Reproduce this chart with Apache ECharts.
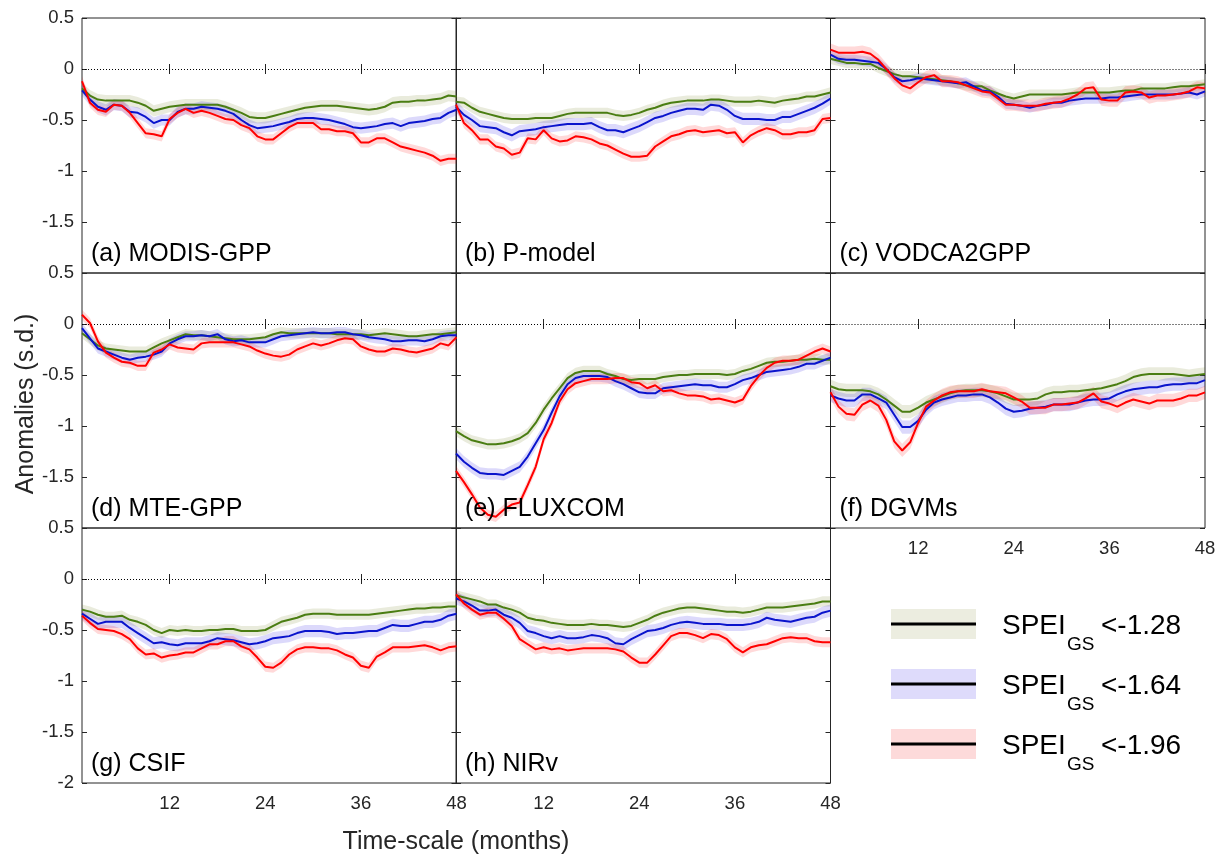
<!DOCTYPE html>
<html><head><meta charset="utf-8">
<script src="https://cdn.jsdelivr.net/npm/echarts@6/dist/echarts.min.js"></script>
<style>html,body{margin:0;padding:0;background:#fff}#c{width:1222px;height:858px}</style>
</head><body><div id="c"></div><script>
const months = [1,2,3,4,5,6,7,8,9,10,11,12,13,14,15,16,17,18,19,20,21,22,23,24,25,26,27,28,29,30,31,32,33,34,35,36,37,38,39,40,41,42,43,44,45,46,47,48];
const xTickLabels = [12,24,36,48];
const panelTitles = ['(a) MODIS-GPP','(b) P-model','(c) VODCA2GPP','(d) MTE-GPP','(e) FLUXCOM','(f) DGVMs','(g) CSIF','(h) NIRv'];
const legendThresholds = ['<-1.28','<-1.64','<-1.96'];

const modisG = [-0.19,-0.26,-0.30,-0.31,-0.31,-0.31,-0.31,-0.33,-0.36,-0.41,-0.39,-0.37,-0.36,-0.35,-0.35,-0.35,-0.35,-0.35,-0.37,-0.40,-0.43,-0.47,-0.48,-0.48,-0.46,-0.44,-0.42,-0.40,-0.38,-0.37,-0.36,-0.36,-0.36,-0.37,-0.38,-0.39,-0.40,-0.39,-0.37,-0.33,-0.32,-0.32,-0.31,-0.31,-0.30,-0.29,-0.26,-0.27];
const modisB = [-0.21,-0.30,-0.37,-0.40,-0.35,-0.36,-0.42,-0.43,-0.47,-0.53,-0.50,-0.50,-0.42,-0.39,-0.39,-0.37,-0.38,-0.39,-0.41,-0.44,-0.50,-0.55,-0.58,-0.57,-0.56,-0.54,-0.52,-0.49,-0.48,-0.48,-0.49,-0.50,-0.52,-0.54,-0.57,-0.58,-0.57,-0.56,-0.54,-0.53,-0.56,-0.53,-0.52,-0.51,-0.49,-0.48,-0.43,-0.40];
const modisR = [-0.12,-0.33,-0.40,-0.42,-0.35,-0.36,-0.43,-0.53,-0.63,-0.64,-0.66,-0.49,-0.43,-0.39,-0.43,-0.41,-0.43,-0.46,-0.49,-0.50,-0.55,-0.58,-0.66,-0.69,-0.69,-0.63,-0.57,-0.53,-0.53,-0.53,-0.59,-0.59,-0.61,-0.61,-0.63,-0.72,-0.72,-0.68,-0.68,-0.72,-0.76,-0.78,-0.80,-0.82,-0.85,-0.90,-0.88,-0.88];

const pmodelG = [-0.32,-0.33,-0.38,-0.42,-0.44,-0.46,-0.48,-0.49,-0.49,-0.49,-0.48,-0.48,-0.48,-0.46,-0.44,-0.43,-0.43,-0.43,-0.43,-0.43,-0.45,-0.46,-0.45,-0.43,-0.40,-0.38,-0.35,-0.33,-0.32,-0.31,-0.31,-0.31,-0.30,-0.30,-0.31,-0.32,-0.32,-0.32,-0.31,-0.32,-0.33,-0.31,-0.30,-0.29,-0.27,-0.27,-0.25,-0.23];
const pmodelB = [-0.37,-0.45,-0.50,-0.56,-0.57,-0.58,-0.62,-0.65,-0.61,-0.60,-0.59,-0.57,-0.56,-0.55,-0.54,-0.54,-0.54,-0.53,-0.57,-0.60,-0.60,-0.62,-0.59,-0.56,-0.52,-0.48,-0.46,-0.43,-0.41,-0.39,-0.39,-0.40,-0.35,-0.36,-0.40,-0.46,-0.49,-0.49,-0.49,-0.50,-0.50,-0.47,-0.47,-0.44,-0.41,-0.38,-0.34,-0.29];
const pmodelR = [-0.35,-0.53,-0.60,-0.69,-0.69,-0.76,-0.78,-0.84,-0.82,-0.68,-0.69,-0.60,-0.68,-0.71,-0.70,-0.66,-0.67,-0.69,-0.73,-0.75,-0.79,-0.83,-0.86,-0.86,-0.85,-0.76,-0.71,-0.66,-0.64,-0.61,-0.60,-0.62,-0.61,-0.60,-0.63,-0.62,-0.72,-0.65,-0.61,-0.58,-0.60,-0.64,-0.64,-0.62,-0.62,-0.60,-0.49,-0.48];

const vodcaG = [0.10,0.08,0.06,0.06,0.05,0.05,0.01,-0.02,-0.05,-0.07,-0.07,-0.08,-0.09,-0.10,-0.11,-0.12,-0.14,-0.16,-0.17,-0.17,-0.21,-0.24,-0.27,-0.29,-0.27,-0.25,-0.25,-0.25,-0.25,-0.25,-0.24,-0.23,-0.23,-0.23,-0.23,-0.23,-0.22,-0.21,-0.21,-0.19,-0.19,-0.19,-0.19,-0.18,-0.17,-0.17,-0.16,-0.15];
const vodcaB = [0.14,0.10,0.09,0.09,0.08,0.07,0.06,0.00,-0.08,-0.12,-0.11,-0.09,-0.10,-0.11,-0.12,-0.13,-0.14,-0.13,-0.17,-0.21,-0.22,-0.27,-0.34,-0.35,-0.36,-0.38,-0.36,-0.35,-0.33,-0.33,-0.31,-0.30,-0.29,-0.29,-0.29,-0.28,-0.28,-0.27,-0.26,-0.25,-0.25,-0.25,-0.25,-0.25,-0.24,-0.23,-0.25,-0.22];
const vodcaR = [0.19,0.16,0.16,0.16,0.17,0.15,0.09,0.00,-0.09,-0.16,-0.19,-0.13,-0.08,-0.06,-0.12,-0.12,-0.13,-0.16,-0.19,-0.22,-0.23,-0.29,-0.35,-0.35,-0.36,-0.36,-0.36,-0.34,-0.33,-0.32,-0.29,-0.25,-0.19,-0.18,-0.30,-0.31,-0.31,-0.23,-0.22,-0.23,-0.28,-0.26,-0.26,-0.25,-0.24,-0.22,-0.18,-0.19];

const mteG = [-0.09,-0.15,-0.21,-0.24,-0.25,-0.26,-0.27,-0.27,-0.27,-0.23,-0.19,-0.16,-0.13,-0.10,-0.11,-0.11,-0.12,-0.13,-0.14,-0.15,-0.15,-0.15,-0.14,-0.13,-0.10,-0.08,-0.09,-0.09,-0.09,-0.09,-0.09,-0.09,-0.10,-0.10,-0.10,-0.10,-0.11,-0.10,-0.09,-0.10,-0.11,-0.12,-0.12,-0.11,-0.10,-0.10,-0.09,-0.08];
const mteB = [-0.04,-0.14,-0.24,-0.27,-0.30,-0.33,-0.35,-0.33,-0.32,-0.30,-0.27,-0.19,-0.15,-0.12,-0.12,-0.11,-0.12,-0.10,-0.15,-0.17,-0.16,-0.18,-0.18,-0.18,-0.15,-0.12,-0.11,-0.10,-0.09,-0.08,-0.09,-0.09,-0.08,-0.08,-0.10,-0.11,-0.13,-0.14,-0.15,-0.17,-0.17,-0.16,-0.16,-0.17,-0.15,-0.12,-0.11,-0.11];
const mteR = [0.09,0.01,-0.17,-0.28,-0.33,-0.37,-0.38,-0.41,-0.41,-0.28,-0.25,-0.20,-0.23,-0.24,-0.25,-0.19,-0.18,-0.18,-0.18,-0.18,-0.20,-0.22,-0.26,-0.29,-0.31,-0.32,-0.30,-0.25,-0.22,-0.19,-0.21,-0.19,-0.16,-0.14,-0.15,-0.22,-0.25,-0.27,-0.27,-0.24,-0.25,-0.27,-0.28,-0.26,-0.24,-0.19,-0.21,-0.13];

const fluxG = [-1.05,-1.10,-1.14,-1.16,-1.18,-1.18,-1.17,-1.15,-1.12,-1.07,-0.97,-0.84,-0.73,-0.63,-0.53,-0.48,-0.46,-0.46,-0.46,-0.49,-0.51,-0.54,-0.55,-0.54,-0.54,-0.54,-0.52,-0.51,-0.50,-0.50,-0.49,-0.49,-0.49,-0.49,-0.50,-0.49,-0.46,-0.44,-0.41,-0.38,-0.37,-0.37,-0.36,-0.35,-0.35,-0.34,-0.35,-0.35];
const fluxB = [-1.27,-1.35,-1.41,-1.46,-1.47,-1.47,-1.48,-1.44,-1.40,-1.30,-1.17,-1.04,-0.87,-0.71,-0.59,-0.53,-0.51,-0.51,-0.51,-0.52,-0.56,-0.59,-0.63,-0.67,-0.68,-0.68,-0.63,-0.62,-0.61,-0.60,-0.59,-0.60,-0.60,-0.62,-0.62,-0.59,-0.55,-0.53,-0.50,-0.47,-0.46,-0.45,-0.44,-0.42,-0.39,-0.39,-0.36,-0.33];
const fluxR = [-1.44,-1.55,-1.67,-1.80,-1.87,-1.89,-1.82,-1.77,-1.75,-1.58,-1.40,-1.13,-0.97,-0.76,-0.64,-0.58,-0.56,-0.54,-0.54,-0.54,-0.53,-0.53,-0.57,-0.58,-0.63,-0.60,-0.66,-0.65,-0.68,-0.70,-0.70,-0.71,-0.74,-0.73,-0.75,-0.77,-0.74,-0.61,-0.51,-0.43,-0.38,-0.36,-0.36,-0.35,-0.31,-0.27,-0.24,-0.27];

const dgvmG = [-0.61,-0.64,-0.65,-0.65,-0.65,-0.66,-0.69,-0.74,-0.80,-0.86,-0.86,-0.82,-0.77,-0.74,-0.71,-0.68,-0.66,-0.65,-0.65,-0.65,-0.66,-0.68,-0.71,-0.74,-0.74,-0.74,-0.73,-0.69,-0.67,-0.67,-0.66,-0.66,-0.65,-0.64,-0.63,-0.61,-0.59,-0.56,-0.52,-0.50,-0.49,-0.49,-0.49,-0.49,-0.50,-0.51,-0.50,-0.49];
const dgvmB = [-0.70,-0.73,-0.75,-0.75,-0.69,-0.69,-0.73,-0.77,-0.89,-1.01,-1.01,-0.95,-0.84,-0.77,-0.74,-0.72,-0.70,-0.70,-0.69,-0.69,-0.72,-0.77,-0.83,-0.86,-0.85,-0.83,-0.82,-0.81,-0.79,-0.79,-0.79,-0.77,-0.75,-0.74,-0.74,-0.73,-0.69,-0.66,-0.64,-0.63,-0.62,-0.62,-0.60,-0.59,-0.59,-0.58,-0.58,-0.55];
const dgvmR = [-0.67,-0.81,-0.88,-0.89,-0.79,-0.75,-0.80,-0.94,-1.15,-1.24,-1.16,-0.97,-0.81,-0.75,-0.70,-0.67,-0.66,-0.66,-0.66,-0.64,-0.66,-0.67,-0.68,-0.72,-0.76,-0.82,-0.82,-0.82,-0.79,-0.79,-0.78,-0.77,-0.73,-0.68,-0.76,-0.78,-0.81,-0.77,-0.74,-0.76,-0.78,-0.75,-0.75,-0.75,-0.73,-0.70,-0.70,-0.67];

const csifG = [-0.30,-0.32,-0.35,-0.37,-0.37,-0.36,-0.40,-0.42,-0.45,-0.50,-0.53,-0.50,-0.51,-0.50,-0.51,-0.51,-0.50,-0.50,-0.49,-0.49,-0.51,-0.51,-0.51,-0.50,-0.46,-0.42,-0.40,-0.38,-0.35,-0.34,-0.34,-0.34,-0.35,-0.35,-0.35,-0.35,-0.35,-0.34,-0.33,-0.32,-0.31,-0.30,-0.29,-0.29,-0.28,-0.28,-0.27,-0.27];
const csifB = [-0.34,-0.39,-0.44,-0.42,-0.42,-0.42,-0.48,-0.53,-0.58,-0.63,-0.62,-0.64,-0.65,-0.63,-0.63,-0.63,-0.61,-0.58,-0.59,-0.60,-0.62,-0.64,-0.63,-0.61,-0.58,-0.57,-0.56,-0.53,-0.51,-0.51,-0.51,-0.52,-0.54,-0.53,-0.53,-0.52,-0.51,-0.51,-0.48,-0.45,-0.46,-0.46,-0.44,-0.42,-0.42,-0.40,-0.36,-0.34];
const csifR = [-0.36,-0.43,-0.49,-0.50,-0.51,-0.54,-0.59,-0.68,-0.74,-0.73,-0.77,-0.75,-0.74,-0.72,-0.72,-0.68,-0.64,-0.64,-0.61,-0.61,-0.66,-0.69,-0.77,-0.86,-0.87,-0.82,-0.74,-0.69,-0.67,-0.67,-0.68,-0.68,-0.70,-0.74,-0.77,-0.85,-0.87,-0.76,-0.72,-0.67,-0.67,-0.67,-0.66,-0.65,-0.67,-0.70,-0.67,-0.66];

const nirvG = [-0.16,-0.18,-0.20,-0.22,-0.25,-0.25,-0.28,-0.30,-0.33,-0.38,-0.40,-0.41,-0.43,-0.44,-0.45,-0.45,-0.45,-0.44,-0.45,-0.45,-0.46,-0.47,-0.46,-0.43,-0.40,-0.36,-0.33,-0.31,-0.29,-0.28,-0.28,-0.29,-0.30,-0.31,-0.32,-0.32,-0.33,-0.32,-0.30,-0.28,-0.28,-0.28,-0.27,-0.26,-0.25,-0.24,-0.22,-0.22];
const nirvB = [-0.19,-0.22,-0.26,-0.31,-0.31,-0.30,-0.35,-0.38,-0.43,-0.51,-0.53,-0.56,-0.58,-0.56,-0.58,-0.58,-0.57,-0.55,-0.56,-0.58,-0.63,-0.64,-0.59,-0.55,-0.51,-0.50,-0.48,-0.45,-0.43,-0.42,-0.43,-0.44,-0.44,-0.44,-0.45,-0.45,-0.45,-0.44,-0.42,-0.38,-0.40,-0.41,-0.42,-0.40,-0.38,-0.37,-0.33,-0.31];
const nirvR = [-0.15,-0.24,-0.30,-0.35,-0.33,-0.33,-0.39,-0.46,-0.59,-0.64,-0.69,-0.67,-0.69,-0.68,-0.70,-0.69,-0.68,-0.68,-0.68,-0.68,-0.69,-0.71,-0.77,-0.82,-0.82,-0.74,-0.65,-0.56,-0.53,-0.53,-0.55,-0.58,-0.54,-0.55,-0.59,-0.67,-0.72,-0.67,-0.65,-0.64,-0.61,-0.58,-0.57,-0.58,-0.58,-0.61,-0.62,-0.62];

// half-width of the shaded uncertainty band, per panel: [green, blue, red]
const bandHalfWidth = [
  [0.055,0.055,0.05],[0.05,0.06,0.05],[0.05,0.05,0.06],[0.05,0.05,0.05],
  [0.05,0.055,0.05],[0.065,0.065,0.065],[0.05,0.06,0.05],[0.05,0.06,0.05]
];

const panelData = [
  [modisG, modisB, modisR],[pmodelG, pmodelB, pmodelR],[vodcaG, vodcaB, vodcaR],
  [mteG, mteB, mteR],[fluxG, fluxB, fluxR],[dgvmG, dgvmB, dgvmR],
  [csifG, csifB, csifR],[nirvG, nirvB, nirvR]
];

const lineColors = ['#4A7D12','#0A14CC','#FF0000'];
const bandColors = ['rgba(110,120,20,0.15)','rgba(20,0,230,0.15)','rgba(255,0,0,0.15)'];
const legendBoxColors = ['#ECEDE0','#DEDBFB','#FDDADA'];

const FONT = '"Liberation Sans", Arial, Helvetica, sans-serif';
const TXT = '#262626';
const colLeft = [82, 456, 830.5];
const rowTop = [18, 273, 528];
const gW = 374.5, gH = 255;

const grids = [], xAxes = [], yAxes = [], series = [], graphics = [];
const isTick = (idx, val) => xTickLabels.indexOf(Number(val)) >= 0;

panelData.forEach((sets, p) => {
  const r = Math.floor(p / 3), c = p % 3;
  grids.push({left: colLeft[c], top: rowTop[r], width: gW, height: gH, show: true,
    borderColor: TXT, borderWidth: 1, backgroundColor: 'transparent', containLabel: false, outerBoundsMode: 'none'});
  const showX = (r === 2) || (r === 1 && c === 2);
  const xBase = {type: 'category', gridIndex: p, data: months, boundaryGap: false,
    axisLine: {show: false}, splitLine: {show: false},
    axisTick: {show: true, inside: true, length: 5, interval: isTick, lineStyle: {color: TXT}}};
  xAxes.push(Object.assign({}, xBase, {position: 'bottom',
    axisLabel: {show: showX, interval: isTick, fontSize: 18.5, color: TXT, fontFamily: FONT, margin: 11}}));
  xAxes.push(Object.assign({}, xBase, {position: 'top', axisLabel: {show: false}}));
  const yBase = {type: 'value', gridIndex: p, min: -2, max: 0.5, interval: 0.5,
    axisLine: {show: false}, splitLine: {show: false},
    axisTick: {show: true, inside: true, length: 5, lineStyle: {color: TXT}}};
  yAxes.push(Object.assign({}, yBase, {position: 'left',
    axisLabel: {show: c === 0, fontSize: 18.5, color: TXT, fontFamily: FONT, margin: 8, showMinLabel: r === 2}}));
  yAxes.push(Object.assign({}, yBase, {position: 'right', axisLabel: {show: false}}));
  const xi = p * 2, yi = p * 2;
  sets.forEach((vals, s) => {
    const hw = bandHalfWidth[p][s];
    const stackId = 'band' + p + '_' + s;
    series.push({type: 'line', xAxisIndex: xi, yAxisIndex: yi, stack: stackId, stackStrategy: 'all',
      data: vals.map(v => +(v - hw).toFixed(4)), symbol: 'none', silent: true, z: 1,
      lineStyle: {opacity: 0, width: 0}});
    series.push({type: 'line', xAxisIndex: xi, yAxisIndex: yi, stack: stackId, stackStrategy: 'all',
      data: vals.map(() => +(2 * hw).toFixed(4)), symbol: 'none', silent: true, z: 1,
      lineStyle: {opacity: 0, width: 0}, areaStyle: {color: bandColors[s], opacity: 1}});
  });
  sets.forEach((vals, s) => {
    const sr = {type: 'line', xAxisIndex: xi, yAxisIndex: yi, data: vals, symbol: 'none', z: 3,
      lineStyle: {color: lineColors[s], width: 2}, itemStyle: {color: lineColors[s]}};
    if (s === 0) {
      sr.markLine = {silent: true, symbol: ['none', 'none'], label: {show: false},
        lineStyle: {type: [1, 2], color: '#000', width: 1}, data: [{yAxis: 0}], z: 2};
    }
    series.push(sr);
  });
  graphics.push({type: 'text', x: colLeft[c] + 9, y: rowTop[r] + gH - 19, z: 10,
    style: {text: panelTitles[p], font: '25px ' + FONT, fill: '#000', textAlign: 'left', textVerticalAlign: 'middle'}});
});

graphics.push({type: 'text', x: 26, y: 404, rotation: Math.PI / 2,
  style: {text: 'Anomalies (s.d.)', font: '25px ' + FONT, fill: TXT, textAlign: 'center', textVerticalAlign: 'middle'}});
graphics.push({type: 'text', x: 456, y: 842,
  style: {text: 'Time-scale (months)', font: '25px ' + FONT, fill: TXT, textAlign: 'center', textVerticalAlign: 'middle'}});

const legTops = [609, 669, 729];
legendThresholds.forEach((th, i) => {
  const yc = legTops[i] + 15;
  graphics.push({type: 'rect', shape: {x: 891, y: legTops[i], width: 85, height: 30}, style: {fill: legendBoxColors[i]}});
  graphics.push({type: 'line', shape: {x1: 891, y1: yc, x2: 976, y2: yc}, style: {stroke: '#000', lineWidth: 3}});
  graphics.push({type: 'text', x: 1002, y: yc + 2, style: {text: 'SPEI', font: '28px ' + FONT, fill: '#000', textVerticalAlign: 'middle'}});
  graphics.push({type: 'text', x: 1067, y: yc + 21, style: {text: 'GS', font: '19px ' + FONT, fill: '#000', textVerticalAlign: 'middle'}});
  graphics.push({type: 'text', x: 1101, y: yc + 2, style: {text: th, font: '28px ' + FONT, fill: '#000', textVerticalAlign: 'middle'}});
});

const chart = echarts.init(document.getElementById('c'), null, {renderer: 'canvas'});
chart.setOption({animation: false, backgroundColor: '#fff', grid: grids, xAxis: xAxes, yAxis: yAxes, series: series, graphic: graphics});
</script></body></html>
